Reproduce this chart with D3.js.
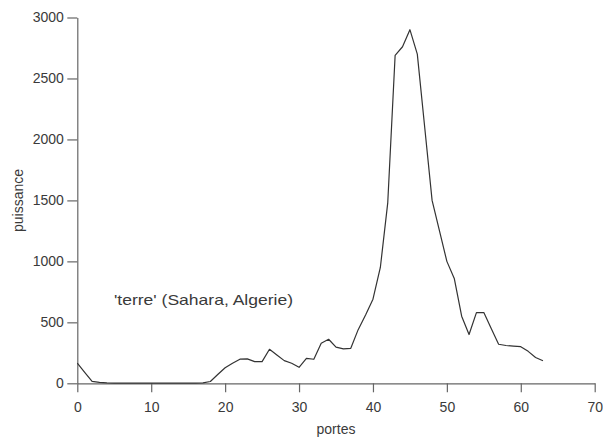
<!DOCTYPE html>
<html>
<head>
<meta charset="utf-8">
<script src="https://cdn.jsdelivr.net/npm/d3@7"></script>
<style>
  html, body { margin: 0; padding: 0; background: #fff; }
  svg { display: block; }
  text { font-family: "Liberation Sans", Arial, Helvetica, sans-serif; fill: #3a3a3a; }
</style>
</head>
<body>
<svg id="chart" width="603" height="439"></svg>
<script>
// ---- data ----
const portes = [0,1,2,3,4,5,6,7,8,9,10,11,12,13,14,15,16,17,18,19,20,21,22,23,24,25,26,27,28,29,30,31,
  32,33,34,35,36,37,38,39,40,41,42,43,44,45,46,47,48,49,50,51,52,53,54,55,56,57,58,59,60,61,62,63];
const puissance = [165,90,15,8,4,2,2,2,2,2,2,2,2,2,2,2,2,3,15,72,128,165,198,200,178,178,279,232,186,164,131,205,
  197,328,361,296,282,287,440,560,690,950,1480,2690,2760,2900,2700,2100,1500,1250,1000,860,550,400,580,580,450,320,310,305,300,262,212,185];
const xTicks = [0,10,20,30,40,50,60,70];
const yTicks = [0,500,1000,1500,2000,2500,3000];
const xTitle = "portes";
const yTitle = "puissance";
const annotation = "'terre' (Sahara, Algerie)";

// ---- drawing ----
const svg = d3.select("#chart");
const x = d3.scaleLinear().domain([0, 70]).range([77.3, 594.7]);
const y = d3.scaleLinear().domain([0, 3000]).range([383.3, 17.5]);

const axisColor = "#666";

const gx = svg.append("g")
  .attr("transform", `translate(0,${y(0)})`)
  .call(d3.axisBottom(x).tickValues(xTicks).tickSize(9).tickSizeOuter(0).tickPadding(9.5).tickFormat(d3.format("d")));
const gy = svg.append("g")
  .attr("transform", `translate(${x(0)},0)`)
  .call(d3.axisLeft(y).tickValues(yTicks).tickSize(10).tickSizeOuter(0).tickPadding(3.5).tickFormat(d3.format("d")));

[gx, gy].forEach(g => {
  g.select(".domain").attr("stroke", axisColor).attr("stroke-width", 1.2);
  g.selectAll(".tick line").attr("stroke", axisColor).attr("stroke-width", 1.2);
  g.selectAll(".tick text").attr("font-size", 14).attr("fill", "#444")
    .style("font-family", "'Liberation Sans', Arial, sans-serif");
});

// line
const line = d3.line().x((d, i) => x(portes[i])).y(d => y(d));
svg.append("path")
  .datum(puissance)
  .attr("fill", "none")
  .attr("stroke", "#333")
  .attr("stroke-width", 1.2)
  .attr("stroke-linejoin", "round")
  .attr("d", line);

// axis titles
svg.append("text")
  .attr("x", 336).attr("y", 434)
  .attr("text-anchor", "middle")
  .attr("font-size", 14)
  .text(xTitle);
svg.append("text")
  .attr("transform", "translate(23,200.5) rotate(-90)")
  .attr("text-anchor", "middle")
  .attr("font-size", 14)
  .text(yTitle);

// annotation
svg.append("text")
  .attr("x", 114).attr("y", 305)
  .attr("font-size", 15)
  .attr("textLength", 179)
  .attr("lengthAdjust", "spacingAndGlyphs")
  .text(annotation);
</script>
</body>
</html>
